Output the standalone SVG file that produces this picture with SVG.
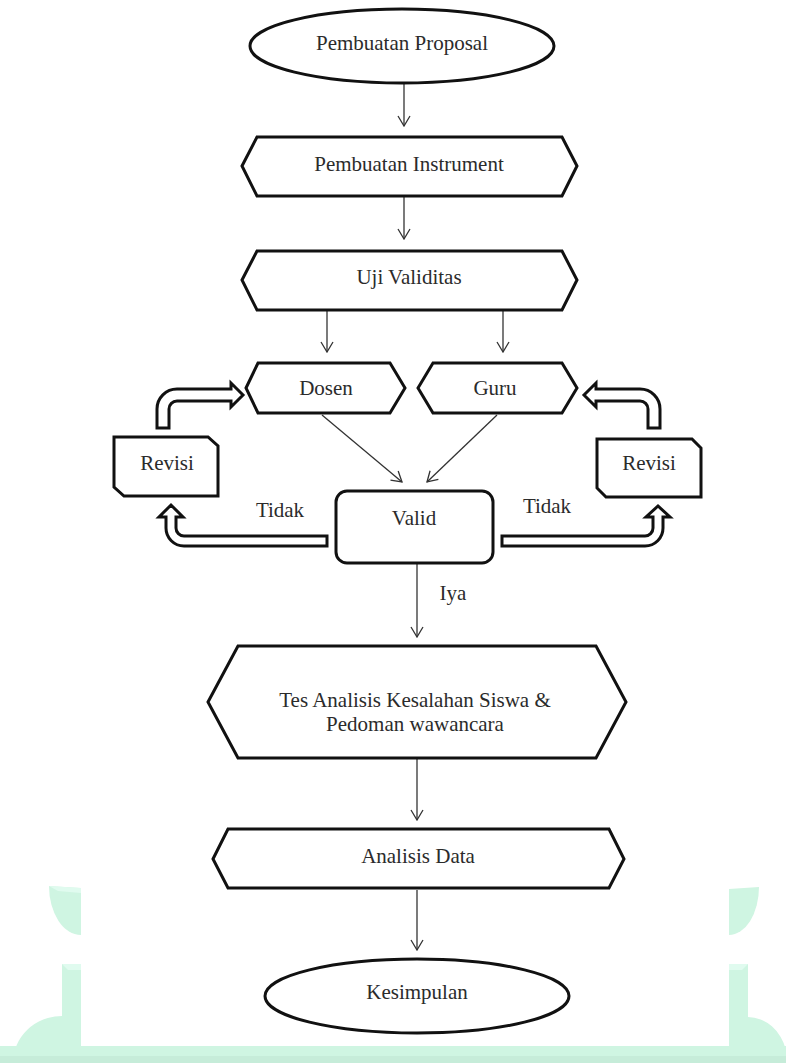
<svg xmlns="http://www.w3.org/2000/svg" width="786" height="1063" viewBox="0 0 786 1063">
<style>
.shape{fill:#fff;stroke:#111;stroke-width:3;stroke-linejoin:miter}
.blk{fill:#fff;stroke:#111;stroke-width:3;stroke-linejoin:miter}
.lbl{font-family:"Liberation Serif","Times New Roman",serif;font-size:21px;fill:#2b2b2b;text-anchor:middle}
.con{stroke:#333;stroke-width:1.3;fill:none;marker-end:url(#v)}
.wm{fill:#cff5e2}
.wm2{fill:#e0fbef}
.wm3{fill:#c6ecd9}
</style>
<defs>
<marker id="v" viewBox="-11 -7 12 14" refX="0" refY="0" markerWidth="12" markerHeight="14" markerUnits="userSpaceOnUse" orient="auto">
<path d="M-10,-6 L0,0 L-10,6" fill="none" stroke="#333" stroke-width="1.3"/>
</marker>
</defs>
<rect width="786" height="1063" fill="#fff"/>
<g id="watermark">
<path class="wm" d="M49,886 L81,888 L81,935 A32,49 0 0 1 49,886 Z"/>
<path class="wm2" d="M49,886 L81,888 L81,893 L58,891 Z"/>
<path class="wm" d="M62,964 L81,964 L81,1063 L13,1063 A49,47 0 0 1 62,1016 Z"/>
<path class="wm2" d="M62,964 L81,964 L81,970 L68,970 Z"/>
<path class="wm" d="M759,887 L729,889 L729,935 A30,48 0 0 0 759,887 Z"/>
<path class="wm" d="M729,964 L748,964 L748,1017 A40,45 0 0 1 786,1050 L786,1063 L729,1063 Z"/>
<path class="wm2" d="M729,970 L742,970 L748,964 L729,964 Z"/>
<rect class="wm" x="0" y="1046" width="786" height="17"/>
<rect class="wm3" x="0" y="1056" width="786" height="7"/>
<rect x="81" y="0" width="648" height="1046" fill="#fff"/>
</g>
<g id="connectors">
<line class="con" x1="404" y1="84" x2="404" y2="126"/>
<line class="con" x1="404" y1="197" x2="404" y2="239"/>
<line class="con" x1="327" y1="311" x2="327" y2="352"/>
<line class="con" x1="503" y1="311" x2="503" y2="352"/>
<line class="con" x1="322" y1="415" x2="402" y2="482"/>
<line class="con" x1="497" y1="415" x2="427" y2="482"/>
<line class="con" x1="417" y1="564" x2="417" y2="637"/>
<line class="con" x1="417" y1="759" x2="417" y2="820"/>
<line class="con" x1="417" y1="890" x2="417" y2="950"/>
<path class="blk" d="M157,428 V409 A20,20 0 0 1 177,389 H231 V383 L243,395 L231,407 V401 H177 A8,8 0 0 0 169,409 V428 Z"/>
<path class="blk" d="M660,428 V409 A20,20 0 0 0 640,389 H596 V383 L584,395 L596,407 V401 H640 A8,8 0 0 1 648,409 V428 Z"/>
<path class="blk" d="M327,536 H184 A8,8 0 0 1 176,528 V517 H183 L171,505 L159,517 H166 V528 A18,18 0 0 0 184,546 H327 Z"/>
<path class="blk" d="M502,536 H645 A8,8 0 0 0 653,528 V517 H646 L658,506 L670,517 H663 V528 A18,18 0 0 1 645,546 H502 Z"/>
<text class="lbl" x="280" y="517">Tidak</text>
<text class="lbl" x="547" y="513">Tidak</text>
<text class="lbl" x="453" y="600">Iya</text>
</g>
<g id="n-proposal">
<ellipse class="shape" cx="402" cy="46" rx="152" ry="37"/>
<text class="lbl" x="402" y="50">Pembuatan Proposal</text>
</g>
<g id="n-instrument">
<path class="shape" d="M242,166 L257,137 L562,137 L577,166 L562,196 L257,196 Z"/>
<text class="lbl" x="409" y="171">Pembuatan Instrument</text>
</g>
<g id="n-uji">
<path class="shape" d="M242,280 L257,251 L562,251 L577,280 L562,310 L257,310 Z"/>
<text class="lbl" x="409" y="284">Uji Validitas</text>
</g>
<g id="n-dosen">
<path class="shape" d="M246,388 L258,363 L390,363 L405,388 L390,413 L258,413 Z"/>
<text class="lbl" x="326" y="395">Dosen</text>
</g>
<g id="n-guru">
<path class="shape" d="M418,388 L433,363 L562,363 L577,388 L562,413 L433,413 Z"/>
<text class="lbl" x="495" y="395">Guru</text>
</g>
<g id="n-revisi-left">
<path class="shape" d="M114,437 L208,437 L218,446 L218,496 L124,496 L114,487 Z"/>
<text class="lbl" x="167" y="470">Revisi</text>
</g>
<g id="n-revisi-right">
<path class="shape" d="M597,439 L692,439 L701,448 L701,497 L606,497 L597,488 Z"/>
<text class="lbl" x="649" y="470">Revisi</text>
</g>
<g id="n-valid">
<rect class="shape" x="336" y="491" width="157" height="72" rx="11" ry="11"/>
<text class="lbl" x="414" y="525">Valid</text>
</g>
<g id="n-tes">
<path class="shape" d="M208,702 L238,646 L596,646 L626,702 L596,758 L238,758 Z"/>
<text class="lbl" x="415" y="707">Tes Analisis Kesalahan Siswa &amp;</text>
<text class="lbl" x="415" y="731">Pedoman wawancara</text>
</g>
<g id="n-analisis">
<path class="shape" d="M213,859 L228,829 L609,829 L624,859 L609,888 L228,888 Z"/>
<text class="lbl" x="418" y="863">Analisis Data</text>
</g>
<g id="n-kesimpulan">
<ellipse class="shape" cx="417" cy="996" rx="152" ry="37"/>
<text class="lbl" x="417" y="999">Kesimpulan</text>
</g>
</svg>
